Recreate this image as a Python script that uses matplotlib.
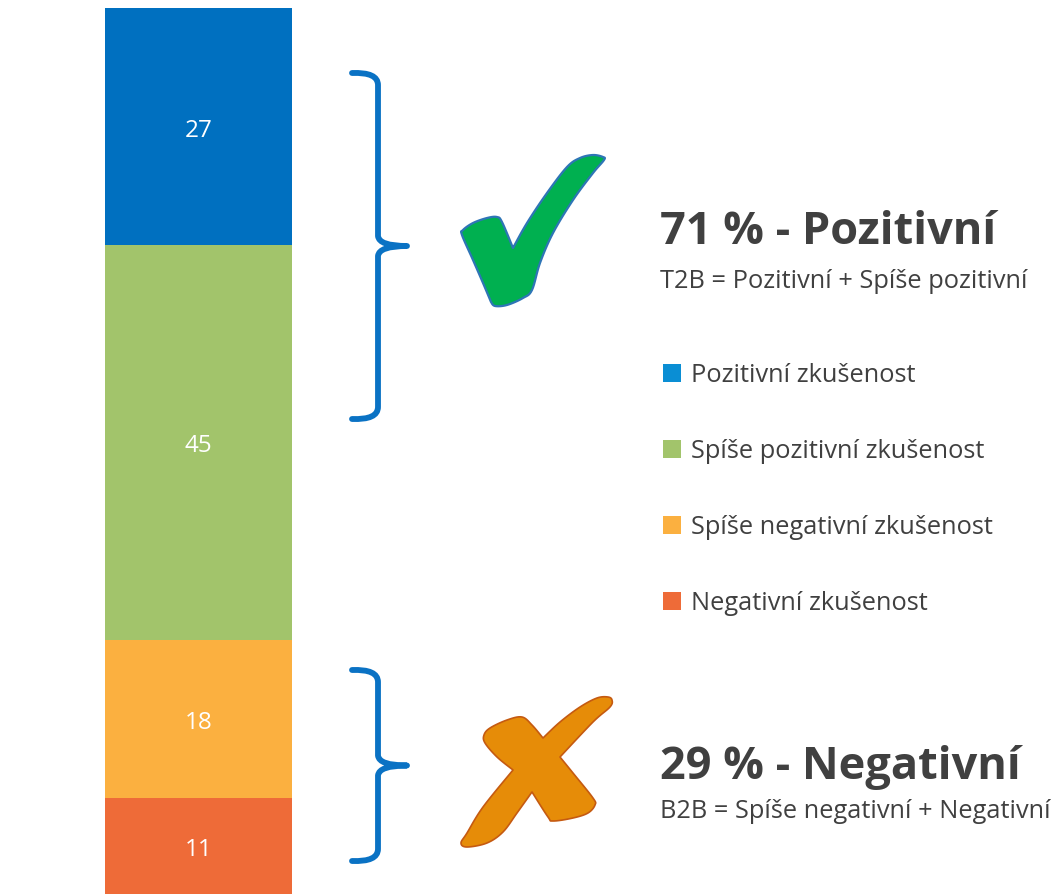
import matplotlib
matplotlib.use("Agg")
import numpy as np
import matplotlib.pyplot as plt
from matplotlib.path import Path
from matplotlib.patches import PathPatch, Rectangle

plt.rcParams["font.family"] = ["Open Sans", "DejaVu Sans"]

# data (top of the bar first)
categories = ["Pozitivní zkušenost", "Spíše pozitivní zkušenost",
              "Spíše negativní zkušenost", "Negativní zkušenost"]
values     = [27, 45, 18, 11]
colors     = ["#0070C0", "#A2C46B", "#FBB040", "#EE6B38"]
legend_colors = ["#0A8ED4", "#A2C46B", "#FBB040", "#EE6B38"]

summary_titles = ["71 % - Pozitivní", "29 % - Negativní"]
summary_notes  = ["T2B = Pozitivní + Spíše pozitivní",
                  "B2B = Spíše negativní + Negativní"]

W, H = 1058, 894
fig = plt.figure(figsize=(W / 100, H / 100), dpi=100)

# stacked bar
ax_bar = fig.add_axes([105 / W, 0, 187 / W, 886 / H])
bottom = sum(values)
for v, c in zip(values, colors):
    bottom -= v
    bars = ax_bar.bar(0, v, bottom=bottom, width=1.0, color=c, edgecolor="none")
    ax_bar.bar_label(bars, labels=[str(v)], label_type="center",
                     color="white", fontsize=17.5, padding=-3)
ax_bar.set_xlim(-0.5, 0.5)
ax_bar.set_ylim(0, sum(values))
ax_bar.axis("off")

# overlay in pixel coordinates for the decorations
ax = fig.add_axes([0, 0, 1, 1], facecolor="none")
ax.set_xlim(0, W)
ax.set_ylim(H, 0)
ax.axis("off")


def brace(top, bot, x0=352, xl=378, tip=407):
    mid = (top + bot) / 2
    verts = [(x0, top), (xl, top - 1), (xl, top + 12),
             (xl, mid - 10),
             (xl + 1, mid), (tip, mid),
             (xl + 1, mid), (xl, mid + 10),
             (xl, bot - 12),
             (xl, bot + 1), (x0, bot)]
    codes = [Path.MOVETO, Path.CURVE3, Path.CURVE3,
             Path.LINETO,
             Path.CURVE3, Path.CURVE3,
             Path.CURVE3, Path.CURVE3,
             Path.LINETO,
             Path.CURVE3, Path.CURVE3]
    ax.add_patch(PathPatch(Path(verts, codes), fill=False, edgecolor="#0A72C4",
                           lw=4.2, capstyle="round", joinstyle="round"))


def catmull(p, n=8):
    # open catmull-rom through p, ends clamped
    p = np.vstack([p[0], p, p[-1]])
    out = []
    for i in range(1, len(p) - 2):
        p0, p1, p2, p3 = p[i - 1], p[i], p[i + 1], p[i + 2]
        for t in np.linspace(0, 1, n, endpoint=False):
            t2, t3 = t * t, t * t * t
            out.append(0.5 * (2 * p1 + (-p0 + p2) * t
                              + (2 * p0 - 5 * p1 + 4 * p2 - p3) * t2
                              + (-p0 + 3 * p1 - 3 * p2 + p3) * t3))
    out.append(p[-1])
    return out


def smooth(pts, corners):
    # smooth outline, sharp at the corner indices
    p = np.array(pts, dtype=float)
    m = len(p)
    k = corners[0]
    p = np.roll(p, -k, axis=0)
    cs = sorted((c - k) % m for c in corners) + [m]
    p = np.vstack([p, p[:1]])
    out = []
    for a, b in zip(cs[:-1], cs[1:]):
        out.extend(catmull(p[a:b + 1])[:-1])
    return np.array(out)


brace(73, 419)
brace(670, 861)

check = [(604, 160), (593, 173), (573, 200), (553, 233), (540, 263), (532, 290),
         (523, 298), (507, 305), (495, 306), (491, 302), (483, 283), (473, 260),
         (462, 235), (463, 230), (473, 223), (487, 218), (497, 217), (502, 222),
         (513, 248), (527, 223), (547, 193), (567, 167), (580, 158),
         (593, 155), (603, 157)]
ax.add_patch(plt.Polygon(smooth(check, [18, 9]), closed=True, facecolor="#00B050",
                         edgecolor="#2E75B6", lw=1.6, joinstyle="round"))

cross = [(612, 700), (610, 707), (593, 722), (560, 757), (573, 773), (593, 798),
         (595, 805), (588, 813), (573, 818), (553, 821), (548, 817), (532, 792),
         (517, 813), (503, 832), (487, 843), (467, 847), (461, 843), (467, 833),
         (483, 807), (513, 770), (497, 757), (485, 743), (484, 735), (490, 728),
         (507, 720), (522, 717), (532, 725), (543, 738), (560, 722), (580, 707),
         (597, 698), (608, 697)]
ax.add_patch(plt.Polygon(smooth(cross, [3, 11, 19, 27]), closed=True,
                         facecolor="#E68C08", edgecolor="#C55A11", lw=1.2,
                         joinstyle="round"))

# summary texts
for (ty, ny), title, note in zip([(232, 281), (767, 812)], summary_titles, summary_notes):
    ax.text(660, ty, title, fontsize=32.5, fontweight="bold", color="#404040",
            ha="left", va="center")
    ax.text(660, ny, note, fontsize=18.3, color="#404040", ha="left", va="center")

# legend
for i, (cat, c) in enumerate(zip(categories, legend_colors)):
    y = 373 + 76 * i
    ax.add_patch(Rectangle((663, y - 9), 18, 18, facecolor=c, edgecolor="none"))
    ax.text(691, y + 3, cat, fontsize=18.3, color="#404040", ha="left", va="center")

fig.savefig("out.png", dpi=100)
